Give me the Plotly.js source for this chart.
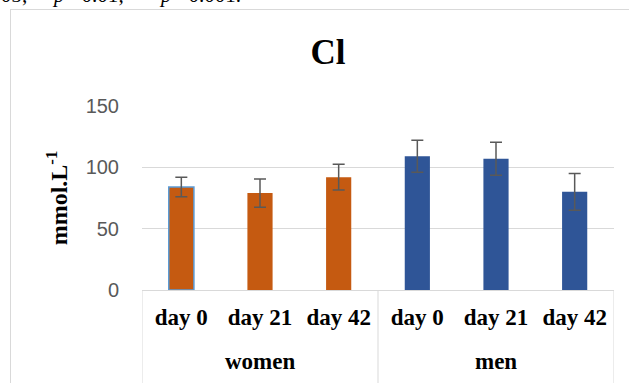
<!DOCTYPE html>
<html>
<head>
<meta charset="utf-8">
<script src="https://cdn.plot.ly/plotly-3.0.1.min.js"></script>
<style>
  html, body { margin: 0; padding: 0; background: #fff; overflow: hidden; width: 629px; height: 383px; }
  #wrap { position: relative; width: 629px; height: 383px; overflow: hidden; }
  #note { position: absolute; left: -53px; top: -15px; font-family: "Liberation Serif", serif; font-size: 21px; line-height: 21px; white-space: pre; color: #000; }
  #frame { position: absolute; left: 10px; top: 9px; width: 800px; height: 600px; border: 1px solid #d9d9d9; box-sizing: border-box; pointer-events: none; }
  #chart { position: absolute; left: 0; top: 0; }
</style>
</head>
<body>
<div id="wrap">
  <div id="note">*<i>p</i> &lt;0.05; **<i>p</i> &lt;0.01; ***<i>p</i> &lt;0.001.</div>
  <div id="frame"></div>
  <div id="chart"></div>
</div>
<script>
// ---- data ----
const groups = ['women', 'women', 'women', 'men', 'men', 'men'];
const days = ['day 0', 'day 21', 'day 42', 'day 0', 'day 21', 'day 42'];
const clMeans = [84, 79, 92, 109, 107, 80];
const clErrors = [8, 11.5, 10.5, 13, 13.5, 15];
const yTickVals = [0, 50, 100, 150];
const chartTitle = 'Cl';
const yAxisTitle = 'mmol.L<sup>-1</sup>';

// ---- styles ----
const barColors = ['#C55A11', '#C55A11', '#C55A11', '#2F5597', '#2F5597', '#2F5597'];
const lineColors = ['#5B9BD5', 'rgba(0,0,0,0)', 'rgba(0,0,0,0)', 'rgba(0,0,0,0)', 'rgba(0,0,0,0)', 'rgba(0,0,0,0)'];
const lineWidths = [1.5, 0, 0, 0, 0, 0];
const labelFont = { family: 'Liberation Serif', size: 23, color: '#000', weight: 'bold' };
const gridGray = '#d9d9d9';

// category slots along the x axis
const xPos = days.map((d, i) => i);

// group spans (derived from the groups array)
const groupNames = [];
const groupStart = {};
const groupEnd = {};
groups.forEach((g, i) => {
  if (!(g in groupStart)) { groupNames.push(g); groupStart[g] = i; }
  groupEnd[g] = i;
});

const annotations = groupNames.map(g => ({
  x: (groupStart[g] + groupEnd[g]) / 2, xref: 'x',
  y: -0.39, yref: 'paper', yanchor: 'middle', xanchor: 'center',
  text: g, showarrow: false, font: labelFont
}));

const dividerXs = [groupStart[groupNames[0]] - 0.5].concat(groupNames.map(g => groupEnd[g] + 0.5));
const shapes = dividerXs.map(xv => ({
  type: 'line', xref: 'x', yref: 'paper', x0: xv, x1: xv, y0: 0, y1: -0.7,
  line: { color: gridGray, width: 1 }, layer: 'above'
}));

const trace = {
  type: 'bar',
  x: xPos,
  y: clMeans,
  marker: { color: barColors, line: { color: lineColors, width: lineWidths } },
  error_y: { type: 'data', array: clErrors, visible: true, color: '#595959', thickness: 1.5, width: 6 },
  hoverinfo: 'none',
  cliponaxis: false
};

const layout = {
  width: 629,
  height: 383,
  margin: { l: 142, r: 15, t: 106, b: 93, pad: 0 },
  paper_bgcolor: 'rgba(0,0,0,0)',
  plot_bgcolor: 'rgba(0,0,0,0)',
  showlegend: false,
  bargap: 0.68,
  title: {
    text: '<b>' + chartTitle + '</b>',
    font: { family: 'Liberation Serif', size: 35, color: '#000' },
    x: 328 / 629, xref: 'container', xanchor: 'center',
    y: 1 - 52 / 383, yref: 'container', yanchor: 'middle'
  },
  xaxis: {
    range: [-0.5, xPos.length - 0.5],
    tickvals: xPos,
    ticktext: days,
    showline: true, linecolor: gridGray, linewidth: 1,
    showgrid: false, zeroline: false,
    ticks: '',
    ticklabelstandoff: 6,
    tickfont: labelFont,
    automargin: false
  },
  yaxis: {
    range: [0, 150],
    tickvals: yTickVals,
    showgrid: true, gridcolor: gridGray, gridwidth: 1,
    zeroline: false, showline: false, ticks: '',
    ticklabelstandoff: 22,
    tickfont: { family: 'Liberation Sans', size: 20, color: '#595959' },
    title: {
      text: '<b>' + yAxisTitle + '</b>',
      font: { family: 'Liberation Serif', size: 24, color: '#000' },
      standoff: 11
    },
    automargin: false
  },
  annotations: annotations,
  shapes: shapes
};

Plotly.newPlot('chart', [trace], layout, { displayModeBar: false, staticPlot: true });
</script>
</body>
</html>
